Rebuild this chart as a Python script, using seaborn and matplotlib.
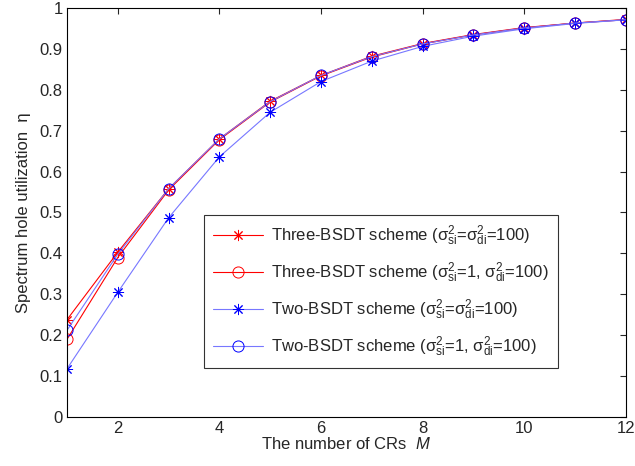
import seaborn as sns
import matplotlib.pyplot as plt
import numpy as np
import pandas as pd

# number of CRs
M = [1, 2, 3, 4, 5, 6, 7, 8, 9, 10, 11, 12]

three_eq = [0.238, 0.403, 0.558, 0.680, 0.772, 0.835, 0.882, 0.913, 0.935, 0.952, 0.963, 0.972]
three_1 = [0.190, 0.390, 0.555, 0.678, 0.770, 0.834, 0.880, 0.912, 0.934, 0.951, 0.963, 0.971]
two_eq = [0.118, 0.305, 0.487, 0.636, 0.745, 0.820, 0.870, 0.906, 0.931, 0.949, 0.962, 0.971]
two_1 = [0.212, 0.398, 0.558, 0.680, 0.771, 0.835, 0.881, 0.912, 0.934, 0.951, 0.963, 0.971]

labels = [r'Three-BSDT scheme ($\mathrm{\sigma}^2_{\rm si}$=$\mathrm{\sigma}^2_{\rm di}$=100)',
          r'Three-BSDT scheme ($\mathrm{\sigma}^2_{\rm si}$=1, $\mathrm{\sigma}^2_{\rm di}$=100)',
          r'Two-BSDT scheme ($\mathrm{\sigma}^2_{\rm si}$=$\mathrm{\sigma}^2_{\rm di}$=100)',
          r'Two-BSDT scheme ($\mathrm{\sigma}^2_{\rm si}$=1, $\mathrm{\sigma}^2_{\rm di}$=100)']

sns.set_style("white")
plt.rcParams['font.family'] = ['Liberation Sans', 'DejaVu Sans']
plt.rcParams['mathtext.fontset'] = 'custom'
plt.rcParams['mathtext.rm'] = 'Liberation Sans'
plt.rcParams['mathtext.it'] = 'Liberation Sans:italic'
plt.rcParams['mathtext.sf'] = 'Liberation Sans'

fig = plt.figure(figsize=(6.35, 4.66), dpi=100)
ax = fig.add_axes([0.1055, 0.105, 0.880, 0.878])

star = (8, 2, 0)
series = [(three_eq, 'red', star), (three_1, 'red', 'o'),
          (two_eq, 'blue', star), (two_1, 'blue', 'o')]
for (vals, col, mk), lab in zip(series, labels):
    df = pd.DataFrame({'M': M, 'eta': vals})
    sns.lineplot(data=df, x='M', y='eta', ax=ax, color=col, marker=mk,
                 markersize=8, markerfacecolor='none', markeredgecolor=col,
                 markeredgewidth=0.7, linewidth=0.8, label=lab)

# blue lines lighter than markers
for ln in ax.lines[2:]:
    ln.set_color('#7777ff')
    ln.set_markeredgecolor('blue')

ax.set_xlim(1, 12)
ax.set_ylim(0, 1)
ax.set_xticks([2, 4, 6, 8, 10, 12])
ax.set_yticks(np.arange(0, 1.01, 0.1))
ax.set_yticklabels(['0', '0.1', '0.2', '0.3', '0.4', '0.5', '0.6', '0.7', '0.8', '0.9', '1'])
ax.tick_params(direction='in', length=4, top=True, right=True, labelsize=12, width=0.8, pad=3)
for s in ax.spines.values():
    s.set_color('black')
    s.set_linewidth(0.8)

ax.set_xlabel(r'The number of CRs  $\it{M}$', fontsize=12, labelpad=0)
ax.set_ylabel('Spectrum hole utilization  η', fontsize=12, labelpad=6)

leg = ax.legend(loc='upper left', bbox_to_anchor=(0.321, 0.539), bbox_transform=fig.transFigure,
                fontsize=12, frameon=True, fancybox=False, edgecolor='black', borderaxespad=0,
                borderpad=0.55, labelspacing=0.75, handlelength=3.0, handletextpad=0.5)
leg.get_frame().set_linewidth(0.8)

fig.savefig('out.png', dpi=100)
